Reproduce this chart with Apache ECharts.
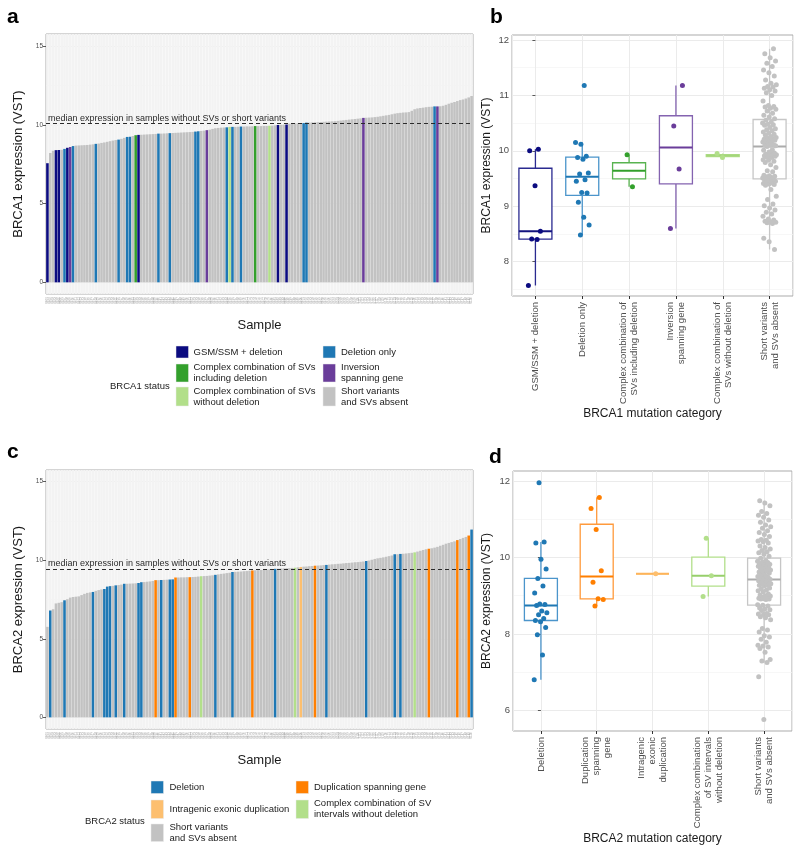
<!DOCTYPE html>
<html><head><meta charset="utf-8">
<script src="https://cdn.jsdelivr.net/npm/echarts@6/dist/echarts.min.js"></script>
<style>html,body{margin:0;padding:0;background:#fff}#chart{width:800px;height:848px}</style>
</head><body><div id="chart"></div>
<script>
const FONT = '"Liberation Sans", Arial, Helvetica, sans-serif';

// ---------- BRCA1 (panels a, b) ----------
const brca1Values = [
 7.57, 8.22, 8.36, 8.40, 8.41, 8.42, 8.48, 8.55, 8.60, 8.66,
 8.69, 8.70, 8.71, 8.72, 8.73, 8.75, 8.77, 8.80, 8.82, 8.86,
 8.89, 8.93, 8.97, 9.01, 9.04, 9.07, 9.12, 9.18, 9.24, 9.25,
 9.30, 9.35, 9.37, 9.38, 9.39, 9.40, 9.41, 9.42, 9.43, 9.45,
 9.45, 9.46, 9.47, 9.48, 9.49, 9.50, 9.51, 9.52, 9.53, 9.54,
 9.55, 9.56, 9.58, 9.60, 9.62, 9.64, 9.67, 9.70, 9.75, 9.79,
 9.81, 9.83, 9.84, 9.85, 9.88, 9.88, 9.88, 9.89, 9.90, 9.90,
 9.91, 9.91, 9.92, 9.93, 9.93, 9.93, 9.94, 9.94, 9.95, 9.96,
 9.98, 10.00, 10.01, 10.02, 10.03, 10.08, 10.09, 10.10, 10.10, 10.11,
 10.12, 10.15, 10.15, 10.16, 10.17, 10.18, 10.19, 10.20, 10.21, 10.22,
 10.23, 10.24, 10.26, 10.28, 10.30, 10.32, 10.34, 10.36, 10.38, 10.40,
 10.42, 10.45, 10.46, 10.47, 10.48, 10.50, 10.52, 10.55, 10.58, 10.61,
 10.64, 10.68, 10.72, 10.75, 10.77, 10.79, 10.80, 10.82, 10.90, 11.00,
 11.05, 11.08, 11.10, 11.13, 11.15, 11.16, 11.18, 11.18, 11.19, 11.22,
 11.28, 11.35, 11.41, 11.46, 11.52, 11.58, 11.62, 11.68, 11.75, 11.84
];
// G = GSM/SSM + deletion, D = deletion only, C = complex incl. deletion,
// I = inversion, L = complex without deletion, S = short variants and SVs absent
const brca1Status = ('GSSGGSDGID' + 'SSSSSSSD' + 'SSSSSSSD' + 'SSDDSCG' + 'SSSSSSD' + 'SSSD' +
  'SSSSSSSSDD' + 'SSI' + 'SSSSSSDLD' + 'SSD' + 'SSSSC' + 'SSSSL' + 'SSG' + 'SSG' + 'SSSSSDD' +
  'SSSSSSSSSSSSSSSSSSSI' + 'SSSSSSSSSSSSSSSSSSSSSSSSDI' + 'SSSSSSSSSSSS').split('');
const brca1Groups = ['G', 'D', 'C', 'I', 'L', 'S'];
const brca1AxisLabels = ['GSM/SSM + deletion', 'Deletion only', 'Complex combination of\nSVs including deletion',
  'Inversion\nspanning gene', 'Complex combination of\nSVs without deletion', 'Short variants\nand SVs absent'];
const brca1LegendLabels = ['GSM/SSM + deletion', 'Deletion only', 'Complex combination of SVs\nincluding deletion',
  'Inversion\nspanning gene', 'Complex combination of SVs\nwithout deletion', 'Short variants\nand SVs absent'];
const brca1Colors = {G: '#0b0b80', D: '#1f78b4', C: '#33a02c', I: '#6a3d9a', L: '#b2df8a', S: '#c2c2c2'};
const brca1BoxLine = {G: '#2a2a90', D: '#4b95cb', C: '#58b350', I: '#8463b0', L: '#b2df8a', S: '#c6c6c6'};
const brca1BoxMed = {G: '#14147f', D: '#1f78b4', C: '#33a02c', I: '#6a3d9a', L: '#a3d67a', S: '#acacac'};
const brca1Ticks = [0, 5, 10, 15];
const brca1BoxTicks = [8, 9, 10, 11, 12];

// ---------- BRCA2 (panels c, d) ----------
const brca2Values = [
 5.76, 6.80, 6.88, 7.25, 7.29, 7.33, 7.45, 7.52, 7.62, 7.66,
 7.68, 7.70, 7.78, 7.86, 7.92, 7.95, 7.98, 8.05, 8.10, 8.14,
 8.17, 8.32, 8.35, 8.37, 8.40, 8.42, 8.45, 8.50, 8.50, 8.51,
 8.52, 8.53, 8.55, 8.60, 8.61, 8.63, 8.65, 8.68, 8.73, 8.73,
 8.74, 8.75, 8.76, 8.77, 8.78, 8.90, 8.90, 8.91, 8.91, 8.92,
 8.92, 8.93, 8.94, 8.96, 8.98, 8.99, 9.00, 9.02, 9.04, 9.07,
 9.10, 9.13, 9.15, 9.18, 9.20, 9.25, 9.26, 9.27, 9.28, 9.30,
 9.31, 9.33, 9.35, 9.36, 9.37, 9.38, 9.39, 9.40, 9.42, 9.43,
 9.45, 9.46, 9.47, 9.48, 9.49, 9.50, 9.51, 9.52, 9.55, 9.57,
 9.59, 9.60, 9.62, 9.63, 9.65, 9.66, 9.67, 9.69, 9.70, 9.72,
 9.74, 9.75, 9.77, 9.78, 9.80, 9.82, 9.83, 9.85, 9.87, 9.88,
 9.90, 9.92, 9.95, 9.98, 10.03, 10.08, 10.12, 10.15, 10.18, 10.22,
 10.26, 10.30, 10.38, 10.38, 10.40, 10.41, 10.43, 10.45, 10.47, 10.50,
 10.55, 10.60, 10.65, 10.70, 10.73, 10.76, 10.80, 10.85, 10.92, 10.98,
 11.05, 11.10, 11.15, 11.20, 11.28, 11.35, 11.42, 11.48, 11.57, 11.95
];
// D = deletion, U = duplication spanning gene, X = intragenic exonic duplication,
// L = complex combination of SV intervals without deletion, S = short variants and SVs absent
const brca2Status = ('SD' + 'SSSSD' + 'SSSSSSSSSD' + 'SSSDDD' + 'SDSSD' + 'SSSSDD' + 'SSSSUSDSSDDU' +
  'SSSSU' + 'SSSL' + 'SSSSD' + 'SSSSSD' + 'SSSSSSU' + 'SSSSSSSD' + 'SSSSSSLSX' + 'SSSSU' + 'SSSD' +
  'SSSSSSSSSSSSSD' + 'SSSSSSSSSDSD' + 'SSSSL' + 'SSSSU' + 'SSSSSSSSSU' + 'SSSUD').split('');
const brca2Groups = ['D', 'U', 'X', 'L', 'S'];
const brca2AxisLabels = ['Deletion', 'Duplication\nspanning\ngene', 'Intragenic\nexonic\nduplication',
  'Complex combination\nof SV intervals\nwithout deletion', 'Short variants\nand SVs absent'];
const brca2LegendLabels = ['Deletion', 'Duplication spanning gene', 'Intragenic exonic duplication',
  'Complex combination of SV\nintervals without deletion', 'Short variants\nand SVs absent'];
const brca2Colors = {D: '#1f78b4', U: '#ff7f00', X: '#fdbf6f', L: '#b2df8a', S: '#c2c2c2'};
const brca2BoxLine = {D: '#4b95cb', U: '#ff9a3c', X: '#fdbf6f', L: '#b2df8a', S: '#c6c6c6'};
const brca2BoxMed = {D: '#1f78b4', U: '#ff7f00', X: '#fdb45a', L: '#97cf6b', S: '#acacac'};
const brca2Ticks = [0, 5, 10, 15];
const brca2BoxTicks = [6, 8, 10, 12];

const medianLabel = 'median expression in samples without SVs or short variants';

// ---------- helpers ----------
function quantile(s, p) { const h = (s.length - 1) * p, lo = Math.floor(h), hi = Math.ceil(h); return s[lo] + (h - lo) * (s[hi] - s[lo]); }
function boxStats(arr) {
  const s = arr.slice().sort((a, b) => a - b);
  const q1 = quantile(s, 0.25), med = quantile(s, 0.5), q3 = quantile(s, 0.75), iqr = q3 - q1;
  const inside = s.filter(v => v >= q1 - 1.5 * iqr && v <= q3 + 1.5 * iqr);
  return [Math.min(...inside), q1, med, q3, Math.max(...inside)];
}
function groupValues(values, status, code) { return values.filter((v, i) => status[i] === code); }
function median(arr) { return quantile(arr.slice().sort((a, b) => a - b), 0.5); }

const sampleNames1 = brca1Values.map((_, i) => 'S' + String(i + 1).padStart(3, '0'));
const sampleNames2 = brca2Values.map((_, i) => 'S' + String(i + 1).padStart(3, '0'));

function boxRender(lineCols, medCols) {
  return function (params, api) {
    const i = api.value(0);
    const lo = api.coord([i, api.value(1)]), q1 = api.coord([i, api.value(2)]), md = api.coord([i, api.value(3)]),
          q3 = api.coord([i, api.value(4)]), hi = api.coord([i, api.value(5)]);
    const x = md[0], hw = 16.5, c = lineCols[params.dataIndex], mc = medCols[params.dataIndex];
    return {type: 'group', children: [
      {type: 'line', shape: {x1: x, y1: lo[1], x2: x, y2: q1[1]}, style: {stroke: c, lineWidth: 1.3}},
      {type: 'line', shape: {x1: x, y1: q3[1], x2: x, y2: hi[1]}, style: {stroke: c, lineWidth: 1.3}},
      {type: 'rect', shape: {x: x - hw, y: q3[1], width: 2 * hw, height: Math.max(q1[1] - q3[1], 0)}, style: {fill: '#fff', stroke: c, lineWidth: 1.3}},
      {type: 'line', shape: {x1: x - hw, y1: md[1], x2: x + hw, y2: md[1]}, style: {stroke: mc, lineWidth: 2}}
    ]};
  };
}
function jitterSeries(values, status, groups, colors, xAxisIndex, yAxisIndex, amp) {
  return groups.map((g, gi) => ({
    type: 'scatter', xAxisIndex, yAxisIndex, symbolSize: 5, z: 5, silent: true,
    itemStyle: {color: colors[g], opacity: 1},
    data: groupValues(values, status, g).map((v, k) => [gi + (((k * 0.6180339887 + gi * 0.37) % 1) - 0.5) * 2 * amp, v])
  }));
}

const gridBase = {show: true, backgroundColor: '#fff', borderColor: '#ababab', borderWidth: 1, containLabel: false, outerBoundsMode: 'none'};
const major = {show: true, lineStyle: {color: '#ebebeb', width: 1}};
const minor = {show: true, lineStyle: {color: '#f4f4f4', width: 0.7}};
const labelTick = {color: '#4d4d4d', fontFamily: FONT};

function sampleAxis(gridIndex, names) {
  return {type: 'category', gridIndex, data: names,
    axisLine: {show: false},
    axisTick: {show: true, alignWithLabel: true, interval: 0, length: 2, lineStyle: {color: '#555', width: 0.5}},
    axisLabel: {show: true, interval: 0, rotate: 90, fontSize: 3, color: '#a0a0a0', margin: 3, fontFamily: FONT},
    splitLine: {show: false},
    name: 'Sample', nameLocation: 'middle', nameGap: 31,
    nameTextStyle: {fontSize: 13, color: '#1a1a1a', fontFamily: FONT, verticalAlign: 'middle'}};
}
function catAxis(gridIndex, labels, title, gap) {
  return {type: 'category', gridIndex, data: labels,
    axisLine: {show: false},
    axisTick: {show: true, alignWithLabel: true, length: 3, lineStyle: {color: '#333', width: 1}},
    axisLabel: Object.assign({rotate: 90, fontSize: 9.5, lineHeight: 11, margin: 6, interval: 0}, labelTick),
    splitLine: {show: false},
    name: title, nameLocation: 'middle', nameGap: gap,
    nameTextStyle: {fontSize: 12, color: '#1a1a1a', fontFamily: FONT, verticalAlign: 'middle'}};
}
function hiddenValX(gridIndex, max) {
  return {type: 'value', gridIndex, min: -0.5, max, show: true,
    axisLine: {show: false}, axisTick: {show: false}, axisLabel: {show: false}, splitLine: major};
}
function yAxis(gridIndex, min, max, splitNumber, ticks, fontSize, name, nameSize, gap) {
  return {type: 'value', gridIndex, min, max, splitNumber,
    axisLine: {show: false},
    axisTick: {show: true, length: 3, customValues: ticks, lineStyle: {color: '#333', width: 0.8}},
    axisLabel: Object.assign({fontSize, margin: 3, customValues: ticks,
      formatter: v => (ticks.some(t => Math.abs(t - v) < 1e-6) ? String(Math.round(v)) : '')}, labelTick),
    splitLine: major, minorTick: {show: false, splitNumber: 2}, minorSplitLine: minor,
    name, nameLocation: 'middle', nameRotate: 90, nameGap: gap,
    nameTextStyle: {fontSize: nameSize, color: '#1a1a1a', fontFamily: FONT, verticalAlign: 'middle'}};
}
function medianMark(val) {
  return {symbol: 'none', silent: true, animation: false,
    lineStyle: {type: [4, 3], color: '#2b2b2b', width: 1},
    label: {show: true, position: 'insideStartTop', formatter: medianLabel, fontSize: 9, color: '#2b2b2b', fontFamily: FONT, distance: [2, 1]},
    data: [{yAxis: val}]};
}

// ---------- graphic: panel letters and legends ----------
const graphics = [];
function letter(t, x, y) { graphics.push({type: 'text', x, y, style: {text: t, font: 'bold 21px ' + FONT, fill: '#000', verticalAlign: 'middle'}}); }
letter('a', 7, 17); letter('b', 490, 17.5); letter('c', 7, 452.6); letter('d', 489, 457.6);
function txt(t, x, y, align) { graphics.push({type: 'text', x, y, style: {text: t, font: '9.5px ' + FONT, fill: '#1a1a1a', verticalAlign: 'middle', align: align || 'left', lineHeight: 11}}); }
function key(color, x, yTop, h) { graphics.push({type: 'rect', shape: {x, y: yTop, width: 12.5, height: h}, style: {fill: color, stroke: '#e8e8e8', lineWidth: 0.5}}); }
// legend a
txt('BRCA1 status', 110, 386);
const legA = [[176, 193.5, 346, 12, 352], [323, 341, 346, 12, 352],
              [176, 193.5, 364, 18, 373], [323, 341, 364, 18, 373],
              [176, 193.5, 387, 19, 396.5], [323, 341, 387, 19, 396.5]];
brca1Groups.forEach((g, i) => { const p = legA[i]; key(brca1Colors[g], p[0], p[2], p[3]); txt(brca1LegendLabels[i], p[1], p[4]); });
// legend c
txt('BRCA2 status', 85, 821);
const legC = [[151, 169.5, 781, 12.5, 787], [296, 314, 781, 12.5, 787],
              [151, 169.5, 800, 18.5, 809], [296, 314, 800, 18.5, 809],
              [151, 169.5, 824, 17.5, 832.5]];
brca2Groups.forEach((g, i) => { const p = legC[i]; key(brca2Colors[g], p[0], p[2], p[3]); txt(brca2LegendLabels[i], p[1], p[4]); });

// ---------- option ----------
const barCommon = {type: 'bar', barCategoryGap: '10%', silent: true, showBackground: true,
  backgroundStyle: {color: '#f3f3f3'}};
const option = {
  animation: false,
  backgroundColor: '#fff',
  textStyle: {fontFamily: FONT},
  grid: [
    Object.assign({left: 46, top: 34, width: 427, height: 260}, gridBase),
    Object.assign({left: 512, top: 35, width: 281, height: 261}, gridBase),
    Object.assign({left: 46, top: 470, width: 427, height: 259}, gridBase),
    Object.assign({left: 513, top: 471, width: 279, height: 260}, gridBase)
  ],
  xAxis: [
    sampleAxis(0, sampleNames1),
    catAxis(1, brca1AxisLabels, 'BRCA1 mutation category', 116),
    hiddenValX(1, 5.5),
    sampleAxis(2, sampleNames2),
    catAxis(3, brca2AxisLabels, 'BRCA2 mutation category', 101),
    hiddenValX(3, 4.5)
  ],
  yAxis: [
    yAxis(0, -0.74, 15.78, 3, brca1Ticks, 6.5, 'BRCA1 expression (VST)', 13, 21),
    yAxis(1, 7.38, 12.09, 5, brca1BoxTicks, 9.5, 'BRCA1 expression (VST)', 12, 25),
    yAxis(2, -0.74, 15.74, 3, brca2Ticks, 6.5, 'BRCA2 expression (VST)', 13, 21),
    yAxis(3, 5.46, 12.26, 3, brca2BoxTicks, 9.5, 'BRCA2 expression (VST)', 12, 26)
  ],
  graphic: graphics,
  series: [
    Object.assign({xAxisIndex: 0, yAxisIndex: 0,
     data: brca1Values.map((v, i) => ({value: v, itemStyle: {color: brca1Colors[brca1Status[i]]}})),
     markLine: medianMark(median(groupValues(brca1Values, brca1Status, 'S')))}, barCommon),
    Object.assign({xAxisIndex: 3, yAxisIndex: 2,
     data: brca2Values.map((v, i) => ({value: v, itemStyle: {color: brca2Colors[brca2Status[i]]}})),
     markLine: medianMark(median(groupValues(brca2Values, brca2Status, 'S')))}, barCommon),
    {type: 'custom', xAxisIndex: 1, yAxisIndex: 1, z: 3, silent: true,
     renderItem: boxRender(brca1Groups.map(g => brca1BoxLine[g]), brca1Groups.map(g => brca1BoxMed[g])),
     encode: {x: 0, y: [1, 2, 3, 4, 5]},
     data: brca1Groups.map((g, i) => [i].concat(boxStats(groupValues(brca1Values, brca1Status, g))))},
    {type: 'custom', xAxisIndex: 4, yAxisIndex: 3, z: 3, silent: true,
     renderItem: boxRender(brca2Groups.map(g => brca2BoxLine[g]), brca2Groups.map(g => brca2BoxMed[g])),
     encode: {x: 0, y: [1, 2, 3, 4, 5]},
     data: brca2Groups.map((g, i) => [i].concat(boxStats(groupValues(brca2Values, brca2Status, g))))}
  ].concat(
    jitterSeries(brca1Values, brca1Status, brca1Groups, brca1Colors, 2, 1, 0.15),
    jitterSeries(brca2Values, brca2Status, brca2Groups, brca2Colors, 5, 3, 0.12)
  )
};
const chart = echarts.init(document.getElementById('chart'), null, {renderer: 'canvas', width: 800, height: 848});
chart.setOption(option);
</script>
</body></html>
